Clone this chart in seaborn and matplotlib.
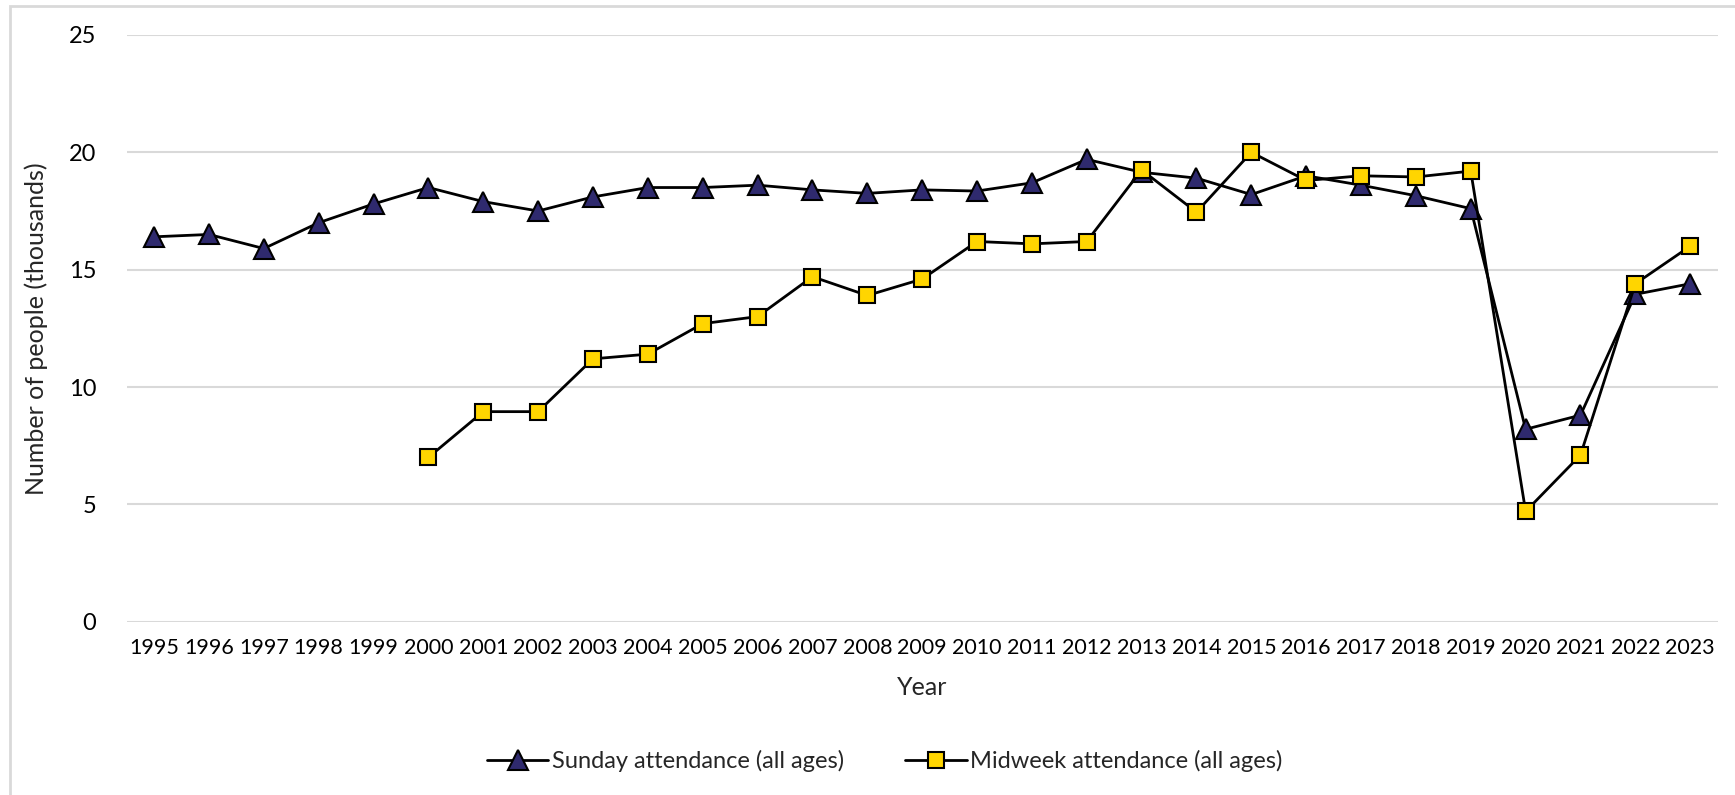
import matplotlib
matplotlib.use("Agg")
import matplotlib.pyplot as plt
import numpy as np
import pandas as pd
import seaborn as sns
from matplotlib.patches import Rectangle

# Data (thousands of people)
years = list(range(1995, 2024))
sunday = [16.4, 16.5, 15.9, 17.0, 17.8, 18.5, 17.9, 17.5, 18.1, 18.5,
          18.5, 18.6, 18.4, 18.25, 18.4, 18.35, 18.7, 19.7, 19.15, 18.9,
          18.2, 19.0, 18.6, 18.15, 17.6, 8.2, 8.8, 13.95, 14.4]
midweek = [np.nan, np.nan, np.nan, np.nan, np.nan, 7.0, 8.95, 8.95, 11.2, 11.4,
           12.7, 13.0, 14.7, 13.9, 14.6, 16.2, 16.1, 16.2, 19.25, 17.45,
           20.0, 18.8, 19.0, 18.95, 19.2, 4.7, 7.1, 14.4, 16.0]
sunday_label = "Sunday attendance (all ages)"
midweek_label = "Midweek attendance (all ages)"

df = pd.DataFrame({"year": years, "sunday": sunday, "midweek": midweek})

sns.set_style("white")
plt.rcParams["font.family"] = ["Lato", "DejaVu Sans"]

fig = plt.figure(figsize=(17.35, 7.95), dpi=100)
ax = fig.add_axes([0.073, 0.218, 0.917, 0.738])

sns.lineplot(data=df, x="year", y="sunday", ax=ax, color="black", linewidth=2,
             marker="^", markersize=14, markerfacecolor="#2F2A6E",
             markeredgecolor="black", markeredgewidth=1.5, label=sunday_label)
sns.lineplot(data=df.dropna(), x="year", y="midweek", ax=ax, color="black", linewidth=2,
             marker="s", markersize=12, markerfacecolor="#FFD500",
             markeredgecolor="black", markeredgewidth=1.5, label=midweek_label)

ax.set_xlim(1994.5, 2023.5)
ax.set_ylim(0, 25)
ax.set_yticks([0, 5, 10, 15, 20, 25])
ax.set_xticks(years)
ax.set_xticklabels([str(y) for y in years])
ax.grid(axis="y", color="#D9D9D9", linewidth=1.5)
ax.set_axisbelow(True)
for s in ax.spines.values():
    s.set_visible(False)
ax.tick_params(axis="x", length=0, labelsize=15.5, colors="black", pad=12)
ax.tick_params(axis="y", length=0, labelsize=17, colors="black", pad=22)

ax.set_xlabel("Year", fontsize=18, labelpad=13)
ax.set_ylabel("Number of people (thousands)", fontsize=18, labelpad=15)

ax.legend(loc="center", bbox_to_anchor=(0.51, 0.043), bbox_transform=fig.transFigure,
          ncol=2, frameon=False, fontsize=17, handlelength=2.6, columnspacing=2.6,
          handletextpad=0.15)

# light frame around the chart area
fig.patches.append(Rectangle((0.006, -0.1), 1.1, 1.092, transform=fig.transFigure,
                             fill=False, edgecolor="#D9D9D9", linewidth=2))

fig.savefig("out.png", dpi=100)
